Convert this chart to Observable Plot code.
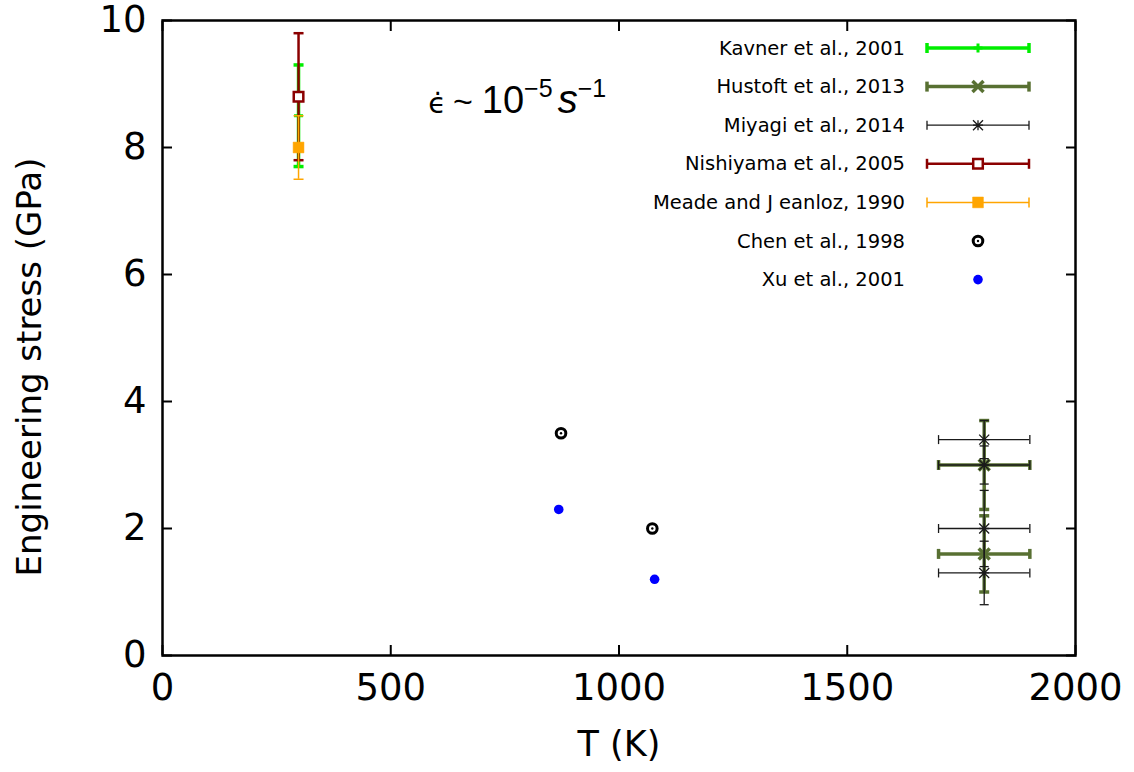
<!DOCTYPE html>
<html><head><meta charset="utf-8">
<script src="https://cdn.jsdelivr.net/npm/d3@7"></script>
<script src="https://cdn.jsdelivr.net/npm/@observablehq/plot@0.6"></script>
<style>body{margin:0;background:#fff} #chart svg{display:block}</style>
</head><body><div id="chart"></div>
<script>
// ---- data ----
const xTicks = [0, 500, 1000, 1500, 2000];
const yTicks = [0, 2, 4, 6, 8, 10];
const seriesNames = ["Kavner et al., 2001", "Hustoft et al., 2013", "Miyagi et al., 2014",
  "Nishiyama et al., 2005", "Meade and J eanloz, 1990", "Chen et al., 1998", "Xu et al., 2001"];

const kavnerT = [298], kavnerS = [8.5], kavnerSErr = [0.8];
const hustoftT = [1800, 1800], hustoftS = [3.0, 1.6], hustoftSErr = [0.7, 0.6], hustoftTErr = [100, 100];
const miyagiT = [1800, 1800, 1800, 1800], miyagiS = [3.4, 3.0, 2.0, 1.3],
      miyagiSErr = [0.3, 0.3, 0.6, 0.5], miyagiTErr = [100, 100, 100, 100];
const nishiyamaT = [298], nishiyamaS = [8.8], nishiyamaSErr = [1.0];
const meadeT = [298], meadeS = [8.0], meadeSErr = [0.5];
const chenT = [873, 1073], chenS = [3.5, 2.0];
const xuT = [868, 1078], xuS = [2.3, 1.2];

const annoT = [583], annoS = [8.53];

// ---- symbols ----
const hcap = {draw(c, size) { const r = Math.sqrt(size / Math.PI); c.moveTo(-r, 0); c.lineTo(r, 0); }};
const vcap = {draw(c, size) { const r = Math.sqrt(size / Math.PI); c.moveTo(0, -r); c.lineTo(0, r); }};
const plusS = {draw(c, size) { const r = Math.sqrt(size / Math.PI); c.moveTo(-r, 0); c.lineTo(r, 0); c.moveTo(0, -r); c.lineTo(0, r); }};
const timesS = {draw(c, size) { const r = Math.sqrt(size / Math.PI); c.moveTo(-r, -r); c.lineTo(r, r); c.moveTo(-r, r); c.lineTo(r, -r); }};
const starS = {draw(c, size) { const r = Math.sqrt(size / Math.PI); c.moveTo(-r, 0); c.lineTo(r, 0); c.moveTo(0, -r); c.lineTo(0, r);
  c.moveTo(-r, -r); c.lineTo(r, r); c.moveTo(-r, r); c.lineTo(r, -r); }};

// ---- styles ----
const series = [
  {T: kavnerT, S: kavnerS, sErr: kavnerSErr, color: "#00ee00", lw: 3.5, sym: plusS, r: 4.5, fill: "none", symW: 3, cap: 5},
  {T: hustoftT, S: hustoftS, sErr: hustoftSErr, tErr: hustoftTErr, color: "#587032", lw: 3.5, sym: timesS, r: 5.5, fill: "none", symW: 3.5, cap: 5},
  {T: miyagiT, S: miyagiS, sErr: miyagiSErr, tErr: miyagiTErr, color: "#1a1a1a", lw: 1.3, sym: starS, r: 5, fill: "none", symW: 1.3, cap: 4.5},
  {T: nishiyamaT, S: nishiyamaS, sErr: nishiyamaSErr, color: "#8b0000", lw: 2.5, sym: "square", r: 5.4, fill: "white", symW: 2.5, cap: 5},
  {T: meadeT, S: meadeS, sErr: meadeSErr, color: "#ffa500", lw: 1.5, sym: "square", r: 6.1, fill: "#ffa500", symW: 0.5, cap: 5},
  {T: chenT, S: chenS, ring: true, color: "black"},
  {T: xuT, S: xuS, color: "#0000ff", sym: "circle", r: 4.8, fill: "#0000ff", symW: 0}
];
series.forEach((s, i) => s.name = seriesNames[i]);

const marks = [];
for (const s of series) {
  const data = s.T.map((t, i) => ({T: t, S: s.S[i], se: s.sErr ? s.sErr[i] : 0, te: s.tErr ? s.tErr[i] : 0}));
  if (s.sErr) {
    marks.push(Plot.ruleX(data, {x: "T", y1: d => d.S - d.se, y2: d => d.S + d.se, stroke: s.color, strokeWidth: s.lw}));
    for (const sign of [-1, 1])
      marks.push(Plot.dot(data, {x: "T", y: d => d.S + sign * d.se, symbol: hcap, r: s.cap, stroke: s.color, strokeWidth: s.lw, fill: "none"}));
  }
  if (s.tErr) {
    marks.push(Plot.ruleY(data, {y: "S", x1: d => d.T - d.te, x2: d => d.T + d.te, stroke: s.color, strokeWidth: s.lw}));
    for (const sign of [-1, 1])
      marks.push(Plot.dot(data, {x: d => d.T + sign * d.te, y: "S", symbol: vcap, r: s.cap, stroke: s.color, strokeWidth: s.lw, fill: "none"}));
  }
  if (s.ring) {
    marks.push(Plot.dot(data, {x: "T", y: "S", r: 4.8, stroke: "black", strokeWidth: 3, fill: "white"}));
    marks.push(Plot.dot(data, {x: "T", y: "S", r: 1.2, fill: "black"}));
  } else {
    marks.push(Plot.dot(data, {x: "T", y: "S", symbol: s.sym, r: s.r, fill: s.fill,
      stroke: s.symW ? s.color : "none", strokeWidth: s.symW}));
  }
}

const FONT = "DejaVu Sans";
const plot = Plot.plot({
  width: 1134, height: 772,
  marginLeft: 162, marginRight: 59, marginTop: 20, marginBottom: 117,
  style: {fontFamily: FONT, background: "white", color: "black"},
  x: {domain: [0, 2000]},
  y: {domain: [0, 10]},
  marks: [
    ...marks,
    Plot.axisX(xTicks, {anchor: "bottom", tickSize: -10, tickPadding: 28, fontSize: 37, strokeWidth: 2, tickFormat: d => String(d), label: null}),
    Plot.axisX(xTicks, {anchor: "top", tickSize: -10, tickPadding: 0, strokeWidth: 2, tickFormat: () => "", label: null}),
    Plot.axisY(yTicks, {anchor: "left", tickSize: -10, tickPadding: 26, fontSize: 37, strokeWidth: 2, tickFormat: d => String(d), label: null}),
    Plot.axisY(yTicks, {anchor: "right", tickSize: -10, tickPadding: 0, strokeWidth: 2, tickFormat: () => "", label: null}),
    Plot.frame({stroke: "black", strokeWidth: 2.5}),
    Plot.text(["T (K)"], {frameAnchor: "bottom", dy: 100, fontSize: 35, text: d => d}),
    Plot.text(["Engineering stress (GPa)"], {frameAnchor: "left", textAnchor: "middle", rotate: -90, dx: -132, dy: 29, fontSize: 34, text: d => d})
  ]
});
document.getElementById("chart").appendChild(plot);

// ---- annotation & legend (positioned from the plot's scales) ----
const svgSel = d3.select(plot);
const xsc = plot.scale("x"), ysc = plot.scale("y");
const frameRight = Math.max(...xsc.range), frameTop = Math.min(...ysc.range);

const ANNO_FONT = "Liberation Sans, DejaVu Sans";
const anno = svgSel.append("text").attr("x", xsc.apply(annoT[0])).attr("y", ysc.apply(annoS[0]))
  .attr("text-anchor", "start").attr("font-family", ANNO_FONT).attr("fill", "black");
anno.append("tspan").attr("font-size", 29).attr("font-family", "DejaVu Sans").text("\u03F5\u0307");
anno.append("tspan").attr("font-size", 34).attr("dx", 7).text("~");
anno.append("tspan").attr("font-size", 38).attr("dx", 9).text("10");
anno.append("tspan").attr("font-size", 25).attr("dy", -16).text("\u22125");
anno.append("tspan").attr("font-size", 40).attr("font-style", "italic").attr("dy", 16).attr("dx", 5).text("s");
anno.append("tspan").attr("font-size", 25).attr("dy", -16).text("\u22121");

const lg = svgSel.append("g");
const lx0 = frameRight - 148, lx1 = frameRight - 46, lxm = (lx0 + lx1) / 2;
series.forEach((s, i) => {
  const y = frameTop + 28 + i * 38.6;
  lg.append("text").attr("x", frameRight - 170).attr("y", y).attr("text-anchor", "end")
    .attr("dominant-baseline", "central").attr("font-family", FONT).attr("font-size", 19.5).text(s.name);
  if (s.sErr) {
    lg.append("line").attr("x1", lx0).attr("x2", lx1).attr("y1", y).attr("y2", y).attr("stroke", s.color).attr("stroke-width", s.lw);
    for (const xx of [lx0, lx1])
      lg.append("path").attr("transform", `translate(${xx},${y})`)
        .attr("d", d3.symbol(vcap, s.cap * s.cap * Math.PI)()).attr("stroke", s.color).attr("stroke-width", s.lw).attr("fill", "none");
  }
  if (s.ring) {
    lg.append("circle").attr("cx", lxm).attr("cy", y).attr("r", 4.8).attr("stroke", "black").attr("stroke-width", 3).attr("fill", "white");
    lg.append("circle").attr("cx", lxm).attr("cy", y).attr("r", 1.2).attr("fill", "black");
  } else {
    const sym = typeof s.sym === "string" ? ({square: d3.symbolSquare, circle: d3.symbolCircle})[s.sym] : s.sym;
    lg.append("path").attr("transform", `translate(${lxm},${y})`)
      .attr("d", d3.symbol(sym, s.r * s.r * Math.PI)()).attr("fill", s.fill)
      .attr("stroke", s.symW ? s.color : "none").attr("stroke-width", s.symW);
  }
});
</script></body></html>
